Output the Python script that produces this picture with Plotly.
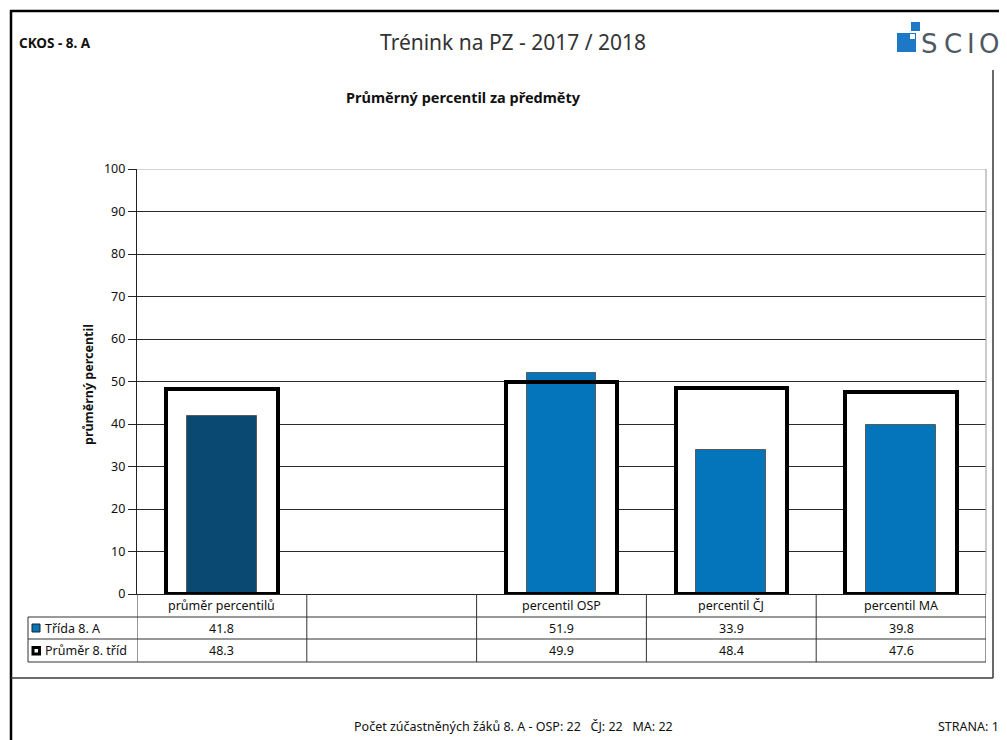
import plotly.graph_objects as go

# ---------------- data ----------------
categories = ["průměr percentilů", " ", "percentil OSP", "percentil ČJ", "percentil MA"]
trida_8a = [41.8, None, 51.9, 33.9, 39.8]
prumer_8_trid = [48.3, None, 49.9, 48.4, 47.6]
bar_colors = ["#0A4A72", "#0474BB", "#0474BB", "#0474BB", "#0474BB"]
series_names = ["Třída 8. A", "Průměr 8. tříd"]
y_ticks = [0, 10, 20, 30, 40, 50, 60, 70, 80, 90, 100]

header_left = "CKOS - 8. A"
header_title = "Trénink na PZ - 2017 / 2018"
chart_title = "Průměrný percentil za předměty"
y_title = "průměrný percentil"
footer = "Počet zúčastněných žáků 8. A - OSP: 22   ČJ: 22   MA: 22"
page_label = "STRANA: 1"
logo_letters = ["S", "C", "I", "O"]

# ---------------- layout geometry (screen pixels) ----------------
W, H = 1007, 740
OFF = 8  # page body margin offset
L, R, T, B = 137, 986, 169, 594
FONT = "Noto Sans"
TXT = "#111"


def px(x):
    return (x - L) / (R - L)


def py(y):
    return (B - y) / (B - T)


fig = go.Figure()

# white fill of the outline boxes (hides gridlines inside)
fig.add_trace(go.Bar(x=categories, y=prumer_8_trid, width=0.655,
                     marker=dict(color="white", line=dict(width=0)),
                     showlegend=False, hoverinfo="skip"))
# class bars
fig.add_trace(go.Bar(x=categories, y=trida_8a, width=0.41, name=series_names[0],
                     marker=dict(color=bar_colors, line=dict(color="#5a5a5a", width=1)),
                     showlegend=False))
# outline boxes
fig.add_trace(go.Bar(x=categories, y=prumer_8_trid, width=0.655, name=series_names[1],
                     marker=dict(color="rgba(0,0,0,0)", line=dict(color="black", width=4)),
                     showlegend=False))

shapes = []
annotations = []
LINE = "#333333"


def ann(x, y, text, size, anchor="center", color=TXT, family=FONT, **kw):
    annotations.append(dict(x=px(x), y=py(y), xref="paper", yref="paper", text=text,
                            showarrow=False, font=dict(family=family, size=size, color=color),
                            xanchor=anchor, yanchor="middle", **kw))


def hline(y, x0, x1, color=LINE, width=1):
    shapes.append(dict(type="line", xref="paper", yref="paper", x0=px(x0), x1=px(x1),
                       y0=py(y), y1=py(y), line=dict(color=color, width=width)))


def vline(x, y0, y1, color=LINE, width=1):
    shapes.append(dict(type="line", xref="paper", yref="paper", x0=px(x), x1=px(x),
                       y0=py(y0), y1=py(y1), line=dict(color=color, width=width)))


# top gridline (100) and right border of plot: light gray
shapes.append(dict(type="line", xref="paper", yref="y", x0=0, x1=1, y0=100, y1=100,
                   line=dict(color="#a8a8a8", width=1.2), layer="above"))
shapes.append(dict(type="line", xref="paper", yref="paper", x0=1, x1=1, y0=0, y1=1,
                   line=dict(color="#a8a8a8", width=1.2), layer="above"))

# ---------------- data table ----------------
for yl in [617, 639, 662]:
    hline(yl, 28, R)
vline(28, 617, 662)
n = len(categories)
for i in range(n + 1):
    xb = i - 0.5
    shapes.append(dict(type="line", xref="x", yref="paper", x0=xb, x1=xb,
                       y0=py(B), y1=py(662), line=dict(color=LINE, width=1)))

TS = 12.5
for c in categories:
    annotations.append(dict(x=c, y=py(605.5), xref="x", yref="paper", text=c.strip(),
                            showarrow=False, font=dict(family=FONT, size=TS, color=TXT),
                            xanchor="center", yanchor="middle"))
for row_y, vals in [(628, trida_8a), (650.5, prumer_8_trid)]:
    for c, v in zip(categories, vals):
        if v is None:
            continue
        annotations.append(dict(x=c, y=py(row_y), xref="x", yref="paper", text=f"{v:.1f}",
                                showarrow=False, font=dict(family=FONT, size=TS, color=TXT),
                                xanchor="center", yanchor="middle"))

# legend column
shapes.append(dict(type="rect", xref="paper", yref="paper", x0=px(32), x1=px(40),
                   y0=py(632), y1=py(624), fillcolor="#0474BB",
                   line=dict(color="#222", width=1)))
shapes.append(dict(type="rect", xref="paper", yref="paper", x0=px(33), x1=px(39.5),
                   y0=py(654), y1=py(647.5), fillcolor="white",
                   line=dict(color="black", width=3)))
ann(43, 628, series_names[0], TS, "left")
ann(43, 650.5, series_names[1], TS, "left")

# y-axis title
ann(88, 385, f"<b>{y_title}</b>", 12.5, textangle=-90)

# ---------------- page / chart frames ----------------
hline(11, 10, W + 5, "black", 2.5)
vline(11, 10, H + 5, "black", 2.5)
vline(993, 70, 678, "#6a6a6a", 2)
hline(678, 11, 993, "#3a3a3a", 1.5)

# ---------------- header ----------------
ann(17, 43, f"<b>{header_left}</b>", 13.5, "left")
ann(513, 42, header_title, 21, color="#333")
ann(463, 97, f"<b>{chart_title}</b>", 14.5)

# SCIO logo
shapes.append(dict(type="rect", xref="paper", yref="paper", x0=px(897), x1=px(916),
                   y0=py(52), y1=py(33), fillcolor="#1E78C8", line=dict(width=0)))
shapes.append(dict(type="rect", xref="paper", yref="paper", x0=px(910), x1=px(915),
                   y0=py(39), y1=py(34), fillcolor="white", line=dict(width=0)))
shapes.append(dict(type="rect", xref="paper", yref="paper", x0=px(911), x1=px(920),
                   y0=py(31), y1=py(22), fillcolor="#1E78C8", line=dict(width=0)))
for xl, letter in zip([919, 942, 965, 977], logo_letters):
    ann(xl, 44, letter, 26, "left", color="#4f5963", family="DejaVu Sans")

# ---------------- footer ----------------
ann(513, 726, footer, 12.5)
ann(936, 726, page_label, 12.5, "left")

fig.update_layout(
    width=W, height=H,
    margin=dict(l=L - OFF, r=W - (R - OFF), t=T - OFF, b=H - (B - OFF), pad=0),
    paper_bgcolor="white", plot_bgcolor="white",
    barmode="overlay", bargap=0,
    showlegend=False,
    shapes=shapes, annotations=annotations,
    font=dict(family=FONT, size=12, color=TXT),
    xaxis=dict(type="category", categoryarray=categories, categoryorder="array",
               range=[-0.5, n - 0.5], showticklabels=False, ticks="",
               showgrid=False, zeroline=False, showline=True, linecolor="#222", linewidth=1),
    yaxis=dict(range=[0, 100], tickvals=y_ticks, ticks="outside", ticklen=8, tickcolor="#222",
               tickfont=dict(family=FONT, size=12.5, color=TXT),
               showgrid=True, gridcolor="#2a2a2a", gridwidth=1, zeroline=False,
               showline=True, linecolor="#222", linewidth=1.2),
)

fig.write_html("out.html")
